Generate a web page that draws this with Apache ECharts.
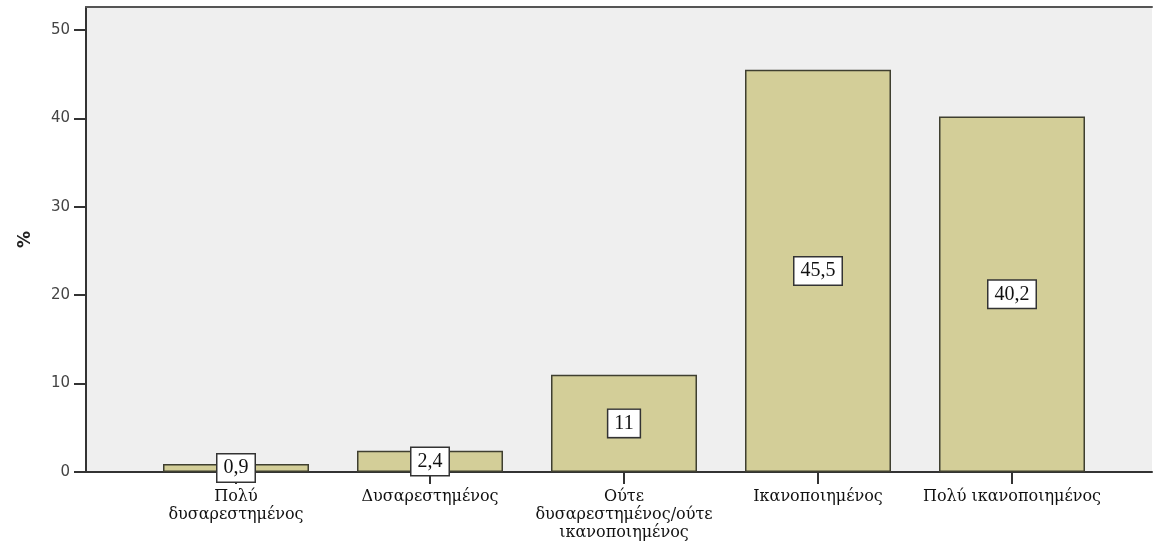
<!DOCTYPE html>
<html>
<head>
<meta charset="utf-8">
<script src="https://cdn.jsdelivr.net/npm/echarts@6/dist/echarts.min.js"></script>
<style>
  html, body { margin: 0; padding: 0; background: #ffffff; }
  #chart { width: 1156px; height: 545px; }
</style>
</head>
<body>
<div id="chart"></div>
<script>
// Satisfaction levels and their shares (%)
const categories = [
  'Πολύ\nδυσαρεστημένος',
  'Δυσαρεστημένος',
  'Ούτε\nδυσαρεστημένος/ούτε\nικανοποιημένος',
  'Ικανοποιημένος',
  'Πολύ ικανοποιημένος'
];
const percents = [0.9, 2.4, 11, 45.5, 40.2];
const yTicks = [0, 10, 20, 30, 40, 50];
const yMax = 52.6;

const chart = echarts.init(document.getElementById('chart'), null, { renderer: 'canvas' });

const axisColor = '#333333';

chart.setOption({
  backgroundColor: '#ffffff',
  animation: false,
  grid: [
    // frame: gray plotting area with left, bottom and top rules
    { left: 86, top: 7, width: 1066, bottom: 73, show: true, backgroundColor: '#efefef', borderWidth: 0 },
    // bars: categories centred inside the frame
    { left: 139, top: 7, width: 970, bottom: 73 }
  ],
  xAxis: [
    {
      gridIndex: 0, type: 'value', min: 0, max: 1, position: 'bottom',
      axisLine: { show: true, lineStyle: { color: axisColor, width: 2 } },
      axisTick: { show: false }, axisLabel: { show: false }, splitLine: { show: false }
    },
    {
      gridIndex: 0, type: 'value', min: 0, max: 1, position: 'top',
      axisLine: { show: true, lineStyle: { color: '#555555', width: 2 } },
      axisTick: { show: false }, axisLabel: { show: false }, splitLine: { show: false }
    },
    {
      gridIndex: 1, type: 'category', data: categories,
      axisLine: { show: false },
      axisTick: { show: true, alignWithLabel: true, length: 12, lineStyle: { color: axisColor, width: 2 } },
      axisLabel: {
        interval: 0, margin: 16, color: '#111111',
        fontFamily: 'DejaVu Serif', fontSize: 16, lineHeight: 18, align: 'center'
      }
    }
  ],
  yAxis: [
    {
      gridIndex: 0, type: 'value', min: 0, max: yMax, interval: 10,
      name: '%', nameLocation: 'middle', nameGap: 52, nameRotate: 90,
      nameTextStyle: { fontFamily: 'DejaVu Sans', fontWeight: 'bold', fontSize: 17, color: '#222222' },
      axisLine: { show: true, lineStyle: { color: axisColor, width: 2 } },
      axisTick: { show: true, length: 12, customValues: yTicks, lineStyle: { color: axisColor, width: 2 } },
      axisLabel: { customValues: yTicks, margin: 16, color: '#444444', fontFamily: 'DejaVu Sans', fontSize: 15 },
      splitLine: { show: false }
    },
    {
      gridIndex: 1, type: 'value', min: 0, max: yMax, show: false
    }
  ],
  series: [
    {
      type: 'bar', xAxisIndex: 2, yAxisIndex: 1,
      data: percents, barWidth: 146,
      itemStyle: { color: '#d3ce98', borderColor: '#3f3f30', borderWidth: 1.5 },
      label: {
        show: true, position: 'inside',
        formatter: p => String(p.value).replace('.', ','),
        fontFamily: 'Liberation Serif', fontSize: 20, color: '#111111',
        backgroundColor: '#ffffff', borderColor: '#333333', borderWidth: 1.5,
        padding: [4, 6, 3, 6]
      }
    }
  ]
});
</script>
</body>
</html>
